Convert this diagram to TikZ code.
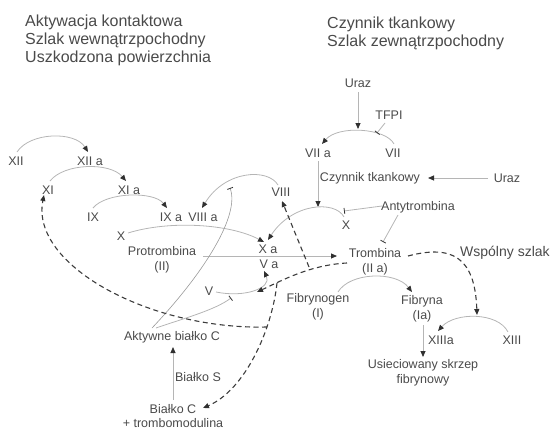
\documentclass[tikz,border=0pt]{standalone}
\usepackage{fontspec}
\setmainfont{Liberation Sans}
\usetikzlibrary{arrows.meta}
\definecolor{txt}{HTML}{4A4A4A}
\definecolor{lc}{HTML}{B5B5B5}
\definecolor{tipc}{HTML}{303030}
\definecolor{dc}{HTML}{3C3C3C}
\tikzset{
  lbl/.style={font=\fontsize{12.5}{14.5}\selectfont, text=txt, inner sep=1pt, align=center},
  ttl/.style={font=\fontsize{16}{18}\selectfont, text=txt, inner sep=0pt, anchor=base west},
  arcln/.style={draw=lc, line width=0.8pt},
  arr/.style={-{Triangle[length=6pt,width=5pt,color=tipc,fill=tipc]}},
  inh/.style={-{Bar[width=6pt,line width=0.8pt,color=tipc]}},
  dsh/.style={draw=dc, line width=1.1pt, dash pattern=on 5pt off 3.5pt}
}
\begin{document}
\begin{tikzpicture}[x=1pt,y=-1pt]
\useasboundingbox (0,0) rectangle (550,431);
% titles
\node[ttl] (T1) at (25,27) {Aktywacja kontaktowa};
\node[ttl] (T2) at (25,45) {Szlak wewnątrzpochodny};
\node[ttl] (T3) at (25,63) {Uszkodzona powierzchnia};
\node[ttl] (T4) at (327,28) {Czynnik tkankowy};
\node[ttl] (T5) at (327,46) {Szlak zewnątrzpochodny};
% labels
\node[lbl] (XII) at (16,161) {XII};
\node[lbl] (XIIa) at (90,161) {XII a};
\node[lbl] (XI) at (48,190) {XI};
\node[lbl] (XIa) at (129,190) {XI a};
\node[lbl] (IX) at (93,217) {IX};
\node[lbl] (IXa) at (171,217) {IX a};
\node[lbl] (VIIIa) at (203,217) {VIII a};
\node[lbl] (Xl) at (121,236) {X};
\node[lbl] (Pro) at (162,260) {Protrombina\\(II)};
\node[lbl] (Xa) at (268,249) {X a};
\node[lbl] (Va) at (269,264) {V a};
\node[lbl] (V) at (209,291) {V};
\node[lbl] (VIII) at (281,192) {VIII};
\node[lbl] (Xr) at (346,225) {X};
\node[lbl] (VIIa) at (318,153) {VII a};
\node[lbl] (VII) at (393,153) {VII};
\node[lbl] (Uraz1) at (358,83) {Uraz};
\node[lbl] (TFPI) at (389,115) {TFPI};
\node[lbl] (Czyn) at (370,178) {Czynnik tkankowy};
\node[lbl] (Uraz2) at (507,178) {Uraz};
\node[lbl] (Anty) at (418,207) {Antytrombina};
\node[lbl] (Tro) at (375,262) {Trombina\\(II a)};
\node[lbl, font=\fontsize{14}{16}\selectfont, anchor=west] (Wsp) at (459,253) {Wspólny szlak};
\node[lbl] (Fgen) at (318,307) {Fibrynogen\\(I)};
\node[lbl] (Fna) at (422,309) {Fibryna\\(Ia)};
\node[lbl] (XIIIa) at (441,340) {XIIIa};
\node[lbl] (XIII) at (512,340) {XIII};
\node[lbl] (Usie) at (423,373) {Usieciowany skrzep\\fibrynowy};
\node[lbl] (Akt) at (172,337) {Aktywne białko C};
\node[lbl] (BS) at (198,377) {Białko S};
\node[lbl] (BC) at (173,416) {Białko C\\+ trombomodulina};
% branch points of the dashed thrombin feedback
\coordinate (b1) at (309,267);
\coordinate (b2) at (277,283);
\coordinate (b3) at (267,327);
\coordinate (arc7) at (358,129);
\coordinate (arcX) at (318,207);
\coordinate (arcXb) at (344,211);
\coordinate (arcV) at (231,298);
\coordinate (arcVIII) at (230,188);
\coordinate (arcVII) at (377,133);
\coordinate (arcTro) at (383,242);
\coordinate (arcXIII) at (477,315);
% solid reaction arcs
\draw[arcln,arr] ([shift={(1,-9)}]XII.center) .. controls (30,132) and (75,131) .. ([shift={(-2,-9)}]XIIa.center);
\draw[arcln,arr] ([shift={(2,-9)}]XI.center) .. controls (64,163) and (110,162) .. ([shift={(-3,-9)}]XIa.center);
\draw[arcln,arr] ([shift={(0,-9)}]IX.center) .. controls (106,192) and (154,191) .. ([shift={(-4,-9)}]IXa.center);
\draw[arcln,arr] ([shift={(7,-3)}]Xl.center) .. controls (170,220) and (230,224) .. ([shift={(-4,-7)}]Xa.center);
\draw[arcln,arr] ([shift={(-3,-7)}]VIII.center) .. controls (268,168) and (225,170) .. ([shift={(-1,-9)}]VIIIa.center);
\draw[arcln,arr] ([shift={(41,-4)}]Pro.center) -- ([shift={(-38,-6)}]Tro.center);
\draw[arcln,arr] ([shift={(0,9)}]Uraz1.center) -- (arc7);
\draw[arcln,arr] ([shift={(1,-9)}]VII.center) .. controls (386,128) and (338,125) .. ([shift={(4,-9)}]VIIa.center);
\draw[arcln,inh] ([shift={(-4,8)}]TFPI.center) -- (arcVII);
\draw[arcln,arr] ([shift={(-19,0)}]Uraz2.center) -- ([shift={(58,0)}]Czyn.center);
\draw[arcln,arr] ([shift={(0,8)}]VIIa.center) -- (arcX);
\draw[arcln,arr] ([shift={(-2,-8)}]Xr.center) .. controls (335,200) and (292,203) .. ([shift={(0,-9)}]Xa.center);
\draw[arcln,inh] ([shift={(-36,-1)}]Anty.center) -- (arcXb);
\draw[arcln,inh] ([shift={(-20,8)}]Anty.center) -- (arcTro);
\draw[arcln,arr] ([shift={(20,-15)}]Fgen.center) .. controls (350,272) and (396,271) .. ([shift={(-10,-17)}]Fna.center);
\draw[arcln,arr] ([shift={(1,16)}]Fna.center) -- ([shift={(0,-16)}]Usie.center);
\draw[arcln,arr] ([shift={(-4,-8)}]XIII.center) .. controls (498,312) and (455,312) .. ([shift={(-3,-9)}]XIIIa.center);
\draw[arcln,arr] ([shift={(7,1)}]V.center) .. controls (245,298) and (272,288) .. ([shift={(-5,7)}]Va.center);
\draw[arcln,arr] ([shift={(0,-16)}]BC.center) -- ([shift={(1,10)}]Akt.center);
\draw[arcln,inh] ([shift={(-16,-9)}]Akt.center) .. controls (185,318) and (215,310) .. (arcV);
\draw[draw=gray!80, line width=0.6pt, inh] ([shift={(-20,-9)}]Akt.center) .. controls (205,272) and (240,215) .. (arcVIII);
% dashed feedback
\draw[dsh,arr] ([shift={(-28,1)}]Tro.center) .. controls (310,265) and (283,280) .. ([shift={(48,1)}]V.center);
\draw[dsh,arr] (b1) -- ([shift={(1,9)}]VIII.center);
\draw[dsh,arr] (b2) .. controls (272,330) and (245,390) .. ([shift={(30,-8)}]BC.center);
\draw[dsh,arr] (b3) .. controls (150,330) and (30,265) .. ([shift={(-4,5)}]XI.center);
\draw[dsh,arr] ([shift={(33,-6)}]Tro.center) .. controls (450,245) and (475,255) .. (arcXIII);
\end{tikzpicture}
\end{document}
